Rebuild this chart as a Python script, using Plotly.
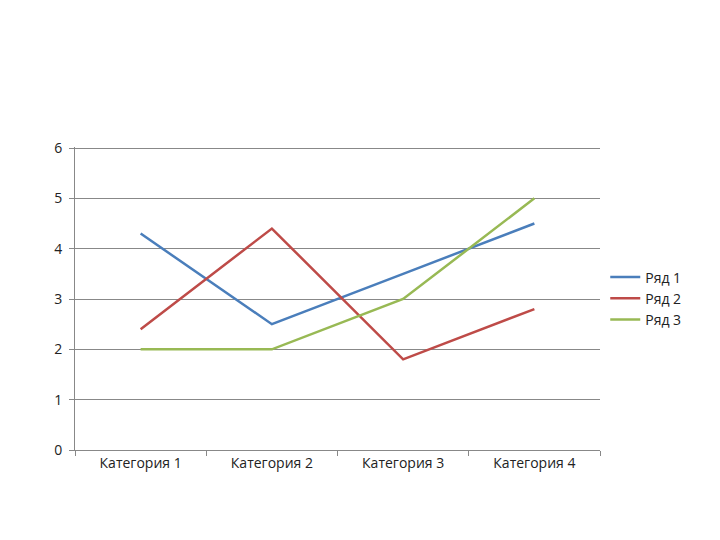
import plotly.graph_objects as go

categories = ["Категория 1", "Категория 2", "Категория 3", "Категория 4"]
series_names = ["Ряд 1", "Ряд 2", "Ряд 3"]
row1 = [4.3, 2.5, 3.5, 4.5]
row2 = [2.4, 4.4, 1.8, 2.8]
row3 = [2, 2, 3, 5]
colors = ["#4a7ebb", "#be4b48", "#98b954"]

fig = go.Figure()
for name, vals, c in zip(series_names, [row1, row2, row3], colors):
    fig.add_trace(go.Scatter(x=categories, y=vals, name=name, mode="lines",
                             line=dict(color=c, width=2.5)))

fig.update_layout(
    width=720, height=540, paper_bgcolor="white", plot_bgcolor="white",
    margin=dict(l=67, r=128, t=139, b=98),
    font=dict(family="Open Sans", size=14, color="#222"),
    legend=dict(x=1.01, y=0.5, yanchor="middle", xanchor="left",
                font=dict(size=14), itemwidth=30, tracegroupgap=0),
    xaxis=dict(type="category", range=[-0.5, 3.5], tickson="boundaries",
               ticks="outside", ticklen=5, tickcolor="#888", automargin=False,
               showline=True, linecolor="#888", showgrid=False),
    yaxis=dict(range=[0, 6.02], tickvals=[0, 1, 2, 3, 4, 5, 6], ticks="outside",
               ticklen=5, tickcolor="#888", automargin=False, ticklabelstandoff=4,
               showline=True, linecolor="#888", gridcolor="#888", gridwidth=1,
               zeroline=False),
)
fig.write_html("out.html")
